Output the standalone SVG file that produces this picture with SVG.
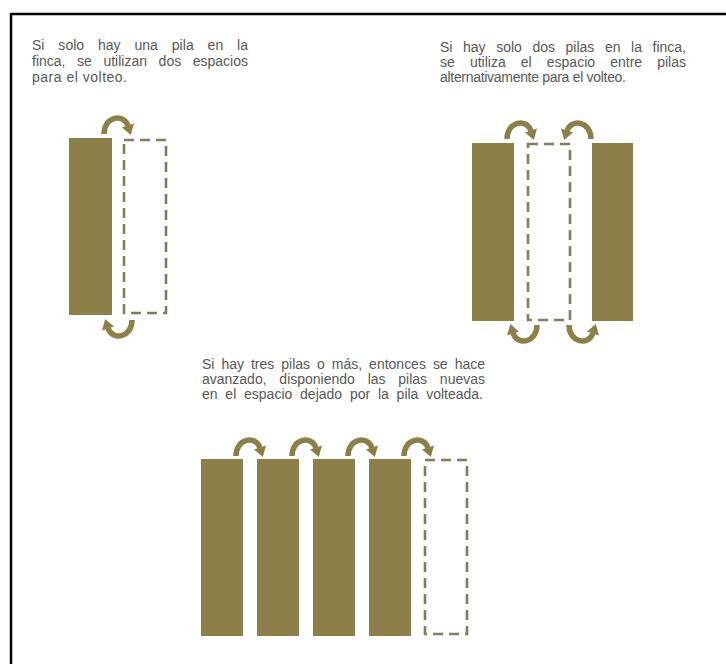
<svg xmlns="http://www.w3.org/2000/svg" xmlns:xlink="http://www.w3.org/1999/xlink" width="726" height="664" viewBox="0 0 726 664">
<style>
.pile{fill:#8c7f49}
.space{fill:none;stroke:#847c5c;stroke-width:2.6;stroke-dasharray:10 6}
.txt{font-family:"Liberation Sans",Arial,sans-serif;font-size:14px;fill:#585858}
.frame{stroke:#000;stroke-width:2.5;fill:none}
</style>
<defs>
<g id="arc">
<path d="M -14 4 C -14 -14, 6 -17, 10 -4" fill="none" stroke="#8c7f49" stroke-width="5.5"/>
<polygon points="4,-2.5 16,-6.5 12.8,5" fill="#8c7f49"/>
</g>
</defs>
<rect width="726" height="664" fill="#ffffff"/>
<g id="frame">
<line class="frame" x1="11" y1="14" x2="726" y2="14"/>
<line class="frame" x1="11" y1="13" x2="11" y2="664"/>
</g>
<g id="text1" class="txt">
<text x="32" y="50" word-spacing="10" textLength="216" lengthAdjust="spacing">Si solo hay una pila en la</text>
<text x="32" y="66" word-spacing="7.7" textLength="216" lengthAdjust="spacing">finca, se utilizan dos espacios</text>
<text x="32" y="82" textLength="95" lengthAdjust="spacing">para el volteo.</text>
</g>
<g id="text2" class="txt">
<text x="440" y="52" word-spacing="6.7" textLength="246" lengthAdjust="spacing">Si hay solo dos pilas en la finca,</text>
<text x="440" y="67" word-spacing="11.2" textLength="246" lengthAdjust="spacing">se utiliza el espacio entre pilas</text>
<text x="440" y="82" textLength="186" lengthAdjust="spacing">alternativamente para el volteo.</text>
</g>
<g id="text3" class="txt">
<text x="202" y="369" word-spacing="3.1" textLength="283" lengthAdjust="spacing">Si hay tres pilas o más, entonces se hace</text>
<text x="202" y="384" word-spacing="8.9" textLength="283" lengthAdjust="spacing">avanzado, disponiendo las pilas nuevas</text>
<text x="202" y="399" word-spacing="3.9" textLength="281" lengthAdjust="spacing">en el espacio dejado por la pila volteada.</text>
</g>
<g id="d1-pile"><rect class="pile" x="69" y="138" width="43" height="177"/></g>
<g id="d1-space"><rect class="space" x="124" y="140" width="42" height="173"/></g>
<g id="d2-pile-left"><rect class="pile" x="472" y="143" width="42" height="178"/></g>
<g id="d2-space"><rect class="space" x="528" y="144" width="42" height="176"/></g>
<g id="d2-pile-right"><rect class="pile" x="592" y="143" width="41" height="178"/></g>
<g id="d3-pile1"><rect class="pile" x="201" y="459" width="42" height="177"/></g>
<g id="d3-pile2"><rect class="pile" x="257" y="459" width="42" height="177"/></g>
<g id="d3-pile3"><rect class="pile" x="313" y="459" width="42" height="177"/></g>
<g id="d3-pile4"><rect class="pile" x="369" y="459" width="42" height="177"/></g>
<g id="d3-space"><rect class="space" x="425" y="460" width="42" height="174"/></g>
<g id="connectors">
<use xlink:href="#arc" transform="translate(118,130)"/>
<use xlink:href="#arc" transform="translate(118,324) scale(-1,-1)"/>
<use xlink:href="#arc" transform="translate(521,135)"/>
<use xlink:href="#arc" transform="translate(577,135) scale(-1,1)"/>
<use xlink:href="#arc" transform="translate(523,329) scale(-1,-1)"/>
<use xlink:href="#arc" transform="translate(583,329) scale(1,-1)"/>
<use xlink:href="#arc" transform="translate(250,452)"/>
<use xlink:href="#arc" transform="translate(306,452)"/>
<use xlink:href="#arc" transform="translate(362,452)"/>
<use xlink:href="#arc" transform="translate(418,452)"/>
</g>
</svg>
